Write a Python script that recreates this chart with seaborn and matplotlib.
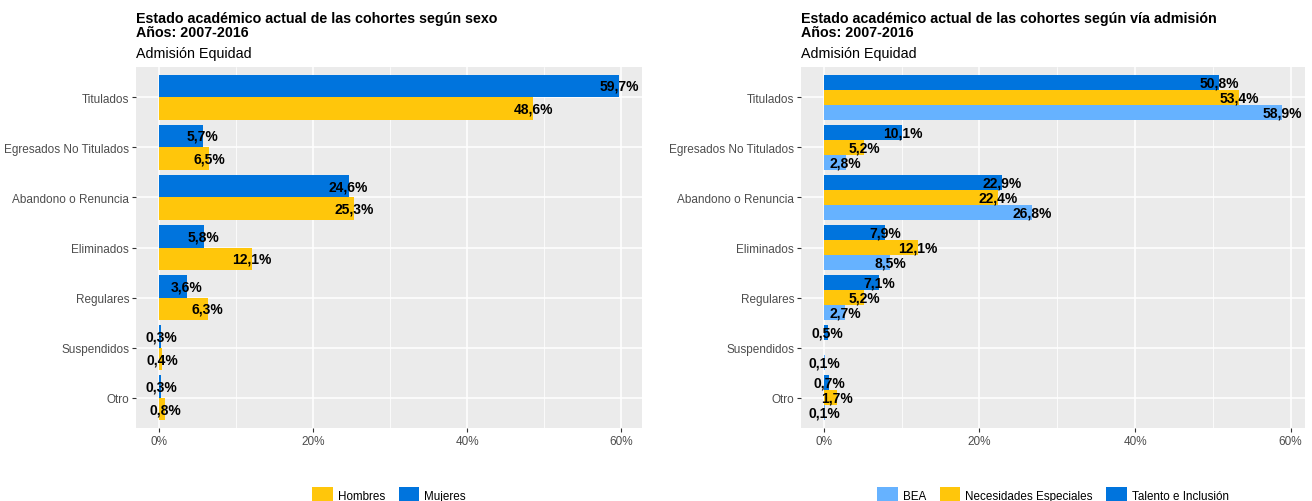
import matplotlib
matplotlib.use("Agg")
import matplotlib.pyplot as plt
from matplotlib.patches import Patch
from matplotlib.ticker import MultipleLocator, FuncFormatter
import seaborn as sns
import pandas as pd

# categories (top to bottom)
estados = ["Titulados", "Egresados No Titulados", "Abandono o Renuncia",
           "Eliminados", "Regulares", "Suspendidos", "Otro"]

# left panel: por sexo (%)
mujeres = [59.7, 5.7, 24.6, 5.8, 3.6, 0.3, 0.3]
hombres = [48.6, 6.5, 25.3, 12.1, 6.3, 0.4, 0.8]

# right panel: por vía de admisión (%)
talento = [50.8, 10.1, 22.9, 7.9, 7.1, 0.5, 0.7]
necesidades = [53.4, 5.2, 22.4, 12.1, 5.2, None, 1.7]
bea = [58.9, 2.8, 26.8, 8.5, 2.7, 0.1, 0.1]

titulo_izq = "Estado académico actual de las cohortes según sexo"
titulo_der = "Estado académico actual de las cohortes según vía admisión"
anios = "Años: 2007-2016"
subtitulo = "Admisión Equidad"

colores_sexo = {"Hombres": "#FFC60B", "Mujeres": "#0074DD"}
colores_via = {"BEA": "#66B2FF", "Necesidades Especiales": "#FFC60B",
               "Talento e Inclusión": "#0074DD"}

sns.set_theme(style="darkgrid", rc={
    "axes.facecolor": "#EBEBEB",
    "grid.color": "white",
    "axes.edgecolor": "#EBEBEB",
    "xtick.color": "#333333",
    "ytick.color": "#333333",
    "xtick.labelcolor": "#4D4D4D",
    "ytick.labelcolor": "#4D4D4D",
    "text.color": "black",
})
plt.rcParams["font.family"] = ["Liberation Sans", "DejaVu Sans"]

W, H = 1312, 502
fig = plt.figure(figsize=(W / 100, H / 100), dpi=100)


def fmt(v):
    if v is None or pd.isna(v):
        return ""
    return f"{v:.1f}%".replace(".", ",")


def panel(ax, series, colores, leyenda_orden, left_px, titulo):
    rows = []
    for nombre, vals in series:
        for est, v in zip(estados, vals):
            rows.append({"estado": est, "grupo": nombre,
                         "valor": 0.0 if v is None else v})
    df = pd.DataFrame(rows)
    hue_order = [n for n, _ in series]
    sns.barplot(data=df, y="estado", x="valor", hue="grupo", order=estados,
                hue_order=hue_order, palette=colores, orient="h", width=0.9,
                saturation=1, errorbar=None, legend=False, ax=ax,
                edgecolor="none", linewidth=0)
    # labels centred on the end of each bar
    for cont, (nombre, vals) in zip(ax.containers, series):
        texts = ax.bar_label(cont, labels=[fmt(v) for v in vals], padding=0,
                             fontsize=10, fontweight="bold", color="black")
        for t in texts:
            t.set_ha("center")
    vmax = df["valor"].max()
    ax.set_xlim(-0.05 * vmax, 1.05 * vmax)
    ax.set_ylim(len(estados) - 1 + 0.6, -0.6)
    ax.xaxis.set_major_locator(MultipleLocator(20))
    ax.xaxis.set_minor_locator(MultipleLocator(10))
    ax.xaxis.set_major_formatter(FuncFormatter(lambda x, p: f"{x:.0f}%"))
    ax.grid(True, which="major", color="white", lw=1.1)
    ax.grid(True, which="minor", axis="x", color="white", lw=0.55)
    ax.set_axisbelow(True)
    ax.tick_params(axis="both", which="major", length=3, width=0.8,
                   labelsize=8.5, pad=2, bottom=True, left=True)
    ax.tick_params(axis="x", which="minor", length=0)
    ax.set_xlabel("")
    ax.set_ylabel("")
    for s in ax.spines.values():
        s.set_visible(False)

    x0 = left_px / W
    fig.text(x0, 1 - 22.7 / H, titulo, fontsize=10.3, fontweight="bold",
             va="baseline", ha="left", color="black")
    fig.text(x0, 1 - 37.3 / H, anios, fontsize=10.3, fontweight="bold",
             va="baseline", ha="left", color="black")
    fig.text(x0, 1 - 58.3 / H, subtitulo, fontsize=10.3,
             va="baseline", ha="left", color="black")

    handles = [Patch(facecolor=colores[n], edgecolor="none") for n in leyenda_orden]
    leg = ax.legend(handles, leyenda_orden, loc="center", bbox_to_anchor=(0.5, -0.185),
                    ncol=len(leyenda_orden), frameon=False, fontsize=8.4,
                    handlelength=1.75, handleheight=1.65, handletextpad=0.45,
                    columnspacing=1.15)
    for t in leg.get_texts():
        t.set_color("black")


top_px, bot_px = 68, 429
ax1 = fig.add_axes([136 / W, 1 - bot_px / H, (642 - 136) / W, (bot_px - top_px) / H])
ax2 = fig.add_axes([801 / W, 1 - bot_px / H, (1305 - 801) / W, (bot_px - top_px) / H])

panel(ax1, [("Mujeres", mujeres), ("Hombres", hombres)], colores_sexo,
      ["Hombres", "Mujeres"], 136, titulo_izq)
panel(ax2, [("Talento e Inclusión", talento), ("Necesidades Especiales", necesidades),
            ("BEA", bea)], colores_via,
      ["BEA", "Necesidades Especiales", "Talento e Inclusión"], 801, titulo_der)

fig.savefig("out.png", dpi=100)
